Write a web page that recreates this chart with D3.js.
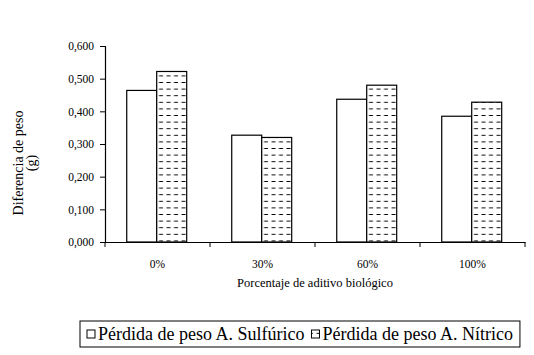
<!DOCTYPE html>
<html>
<head>
<meta charset="utf-8">
<script src="https://cdn.jsdelivr.net/npm/d3@7"></script>
<style>
body { margin: 0; background: #fff; }
text { font-family: "Liberation Serif", "Times New Roman", serif; fill: #000; }
</style>
</head>
<body>
<script>
var categories = ["0%", "30%", "60%", "100%"];
var seriesNames = ["Pérdida de peso A. Sulfúrico", "Pérdida de peso A. Nítrico"];
var sulfurico = [0.464, 0.327, 0.437, 0.385];
var nitrico = [0.522, 0.320, 0.480, 0.428];
var yTicks = [0, 0.1, 0.2, 0.3, 0.4, 0.5, 0.6];

const w = 534,
    h = 355;
const padL = 105, padR = 525, padT = 46, padB = 242;

const svg = d3.select("body")
    .append("svg")
    .attr("width", w)
    .attr("height", h);

// dashed horizontal hatch
var pat = svg.append("defs").append("pattern")
    .attr("id", "hatch")
    .attr("patternUnits", "userSpaceOnUse")
    .attr("width", 7.5)
    .attr("height", 6.6);
pat.append("rect").attr("width", 7.5).attr("height", 6.6).attr("fill", "#fff");
pat.append("line")
    .attr("x1", 1.5).attr("x2", 5.5)
    .attr("y1", 3.3).attr("y2", 3.3)
    .attr("stroke", "#000")
    .attr("stroke-width", 1);

var xScale = d3.scaleBand()
    .domain(categories)
    .range([padL, padR]);
var bw = xScale.bandwidth();
var x1 = d3.scaleBand()
    .domain([0, 1])
    .range([bw * 0.207, bw * 0.778]);

var yScale = d3.scaleLinear()
    .domain([0, 0.6])
    .range([padB, padT]);

var rows = categories.map((c, i) => ({ cat: c, vals: [sulfurico[i], nitrico[i]] }));

var groups = svg.selectAll("g.grp")
    .data(rows)
    .enter()
    .append("g")
    .attr("class", "grp")
    .attr("transform", (d) => "translate(" + xScale(d.cat) + ",0)");

groups.selectAll("rect")
    .data((d) => d.vals.map((v, j) => ({ v: v, j: j })))
    .enter()
    .append("rect")
    .attr("x", (d) => x1(d.j))
    .attr("y", (d) => yScale(d.v))
    .attr("width", x1.bandwidth())
    .attr("height", (d) => padB - yScale(d.v))
    .attr("fill", (d) => d.j === 0 ? "#fff" : "url(#hatch)")
    .attr("stroke", "#000")
    .attr("stroke-width", 1.2);

// y axis
var yAxis = d3.axisLeft(yScale)
    .tickValues(yTicks)
    .tickSize(5)
    .tickFormat((d) => d3.format(".3f")(d).replace(".", ","));
var gy = svg.append("g")
    .attr("transform", "translate(" + padL + ",0)")
    .call(yAxis);
gy.select(".domain").attr("stroke-width", 1.2);
gy.selectAll("text").style("font-size", "11.5px").attr("x", -11);

// x axis
var xAxis = d3.axisBottom(xScale).tickSize(0).tickSizeOuter(0);
var gx = svg.append("g")
    .attr("transform", "translate(0," + padB + ")")
    .call(xAxis);
gx.select(".domain").attr("stroke-width", 1.2);
gx.selectAll("text").style("font-size", "11.5px").attr("y", 18);
gx.selectAll("line.sep")
    .data(categories.concat(["end"]))
    .enter()
    .append("line")
    .attr("class", "sep")
    .attr("x1", (d, i) => padL + i * bw)
    .attr("x2", (d, i) => padL + i * bw)
    .attr("y1", 0).attr("y2", 5)
    .attr("stroke", "#000");

// axis titles
svg.append("text")
    .attr("x", (padL + padR) / 2)
    .attr("y", 287)
    .attr("text-anchor", "middle")
    .style("font-size", "12.5px")
    .text("Porcentaje de aditivo biológico");

var yt = svg.append("text")
    .attr("transform", "translate(23,163) rotate(-90)")
    .attr("text-anchor", "middle")
    .style("font-size", "14px");
yt.append("tspan").attr("x", 0).attr("dy", 0).text("Diferencia de peso");
yt.append("tspan").attr("x", 0).attr("dy", 13).text("(g)");

// legend
var lg = svg.append("g");
var box = lg.append("rect")
    .attr("x", 80).attr("y", 321)
    .attr("height", 26)
    .attr("fill", "#fff").attr("stroke", "#000").attr("stroke-width", 1);
var cx = 87;
seriesNames.forEach(function (s, i) {
    lg.append("rect")
        .attr("x", cx).attr("y", 330)
        .attr("width", 8).attr("height", 8)
        .attr("fill", i === 0 ? "#fff" : "url(#hatch)")
        .attr("stroke", "#000").attr("stroke-width", 1);
    var t = lg.append("text")
        .attr("x", cx + 11).attr("y", 340)
        .style("font-size", "18px")
        .text(s);
    cx = cx + 11 + t.node().getComputedTextLength() + 7;
});
box.attr("width", cx - 80);
</script>
</body>
</html>
